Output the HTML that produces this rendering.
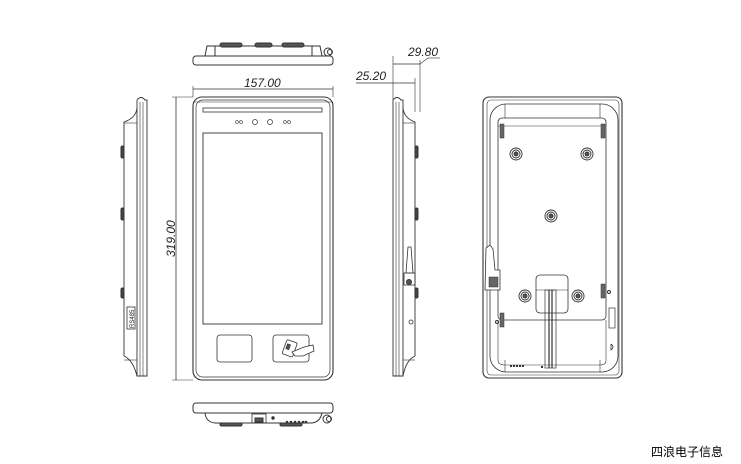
<!DOCTYPE html>
<html><head><meta charset="utf-8"><style>
html,body{margin:0;padding:0;background:#fff;width:741px;height:464px;overflow:hidden}
svg{display:block}
text{font-family:"Liberation Sans",sans-serif;font-style:italic;font-size:12px;fill:#222}
</style></head><body>
<svg width="741" height="464" viewBox="0 0 741 464" xmlns="http://www.w3.org/2000/svg" fill="none" stroke="#333" stroke-width="1">
<!-- Top view -->
<path d="M205 56 L207 46 L320 46 L322 56" />
<line x1="215" y1="46" x2="215" y2="56"/><line x1="312" y1="46" x2="312" y2="56"/>
<rect x="220" y="43" width="22" height="4" rx="2" fill="#555"/>
<rect x="255" y="43" width="17" height="4" rx="2" fill="#555"/>
<rect x="282" y="43" width="22" height="4" rx="2" fill="#555"/>
<rect x="193" y="56" width="140" height="9" rx="3"/>
<circle cx="328" cy="52" r="4"/><circle cx="330" cy="52" r="2.5"/>
<!-- 157 dim -->
<line x1="193" y1="89" x2="333" y2="89" stroke-width="0.8"/>
<line x1="193" y1="86" x2="193" y2="97" stroke-width="0.6"/>
<line x1="333" y1="86" x2="333" y2="97" stroke-width="0.6"/>
<text x="244" y="87" stroke="none">157.00</text>
<!-- Front view -->
<rect x="193" y="97" width="140" height="283" rx="9" stroke-width="1.1"/>
<rect x="196" y="100" width="134" height="277" rx="7" stroke-width="0.7"/>
<line x1="193" y1="102" x2="333" y2="102" stroke-width="0.6"/>
<rect x="203" y="108" width="119" height="4" stroke-width="0.8"/>
<circle cx="237" cy="122" r="1.4" stroke-width="0.6"/><circle cx="241" cy="122" r="1.4" stroke-width="0.6"/>
<circle cx="255" cy="122" r="2.5" stroke-width="0.7"/><circle cx="270" cy="122" r="2.5" stroke-width="0.7"/>
<circle cx="285" cy="122" r="1.4" stroke-width="0.6"/><circle cx="289" cy="122" r="1.4" stroke-width="0.6"/>
<rect x="203" y="133" width="119" height="191" stroke-width="0.9"/>
<rect x="217" y="335" width="35" height="27" rx="3" stroke-width="0.8"/>
<rect x="273" y="335" width="36" height="27" rx="3" stroke-width="0.8"/>
<g transform="translate(290,349) rotate(20)" stroke-width="0.8"><rect x="-6" y="-8" width="11" height="15" rx="1.5" fill="#fff"/><rect x="-4" y="-4" width="3" height="5" fill="#555"/></g>
<path d="M292 352 L304 347 L313 345 L314 351 L303 356 L295 356 Z" fill="#fff" stroke-width="0.8"/>
<!-- 319 dim -->
<line x1="176" y1="97" x2="176" y2="380" stroke-width="0.8"/>
<line x1="172" y1="97" x2="193" y2="97" stroke-width="0.6"/>
<line x1="172" y1="380" x2="193" y2="380" stroke-width="0.6"/>
<text x="0" y="0" stroke="none" transform="translate(175,257) rotate(-90)">319.00</text>
<!-- Left side view -->
<path d="M137 100 Q141 95 145 100 L147 100 L147 376 L137 376 Z" stroke-width="0.9"/>
<line x1="140" y1="102" x2="140" y2="376" stroke-width="0.6"/><line x1="143" y1="102" x2="143" y2="376" stroke-width="0.6"/>
<path d="M137 108 Q136 118 124 122 L124 356 Q133 360 137 376" stroke-width="0.9"/>
<line x1="124" y1="123" x2="137" y2="123" stroke-width="0.6"/>
<line x1="124" y1="360" x2="137" y2="360" stroke-width="0.6"/>
<rect x="121" y="146" width="3" height="12" rx="1.5" fill="#444"/>
<rect x="121" y="208" width="3" height="12" rx="1.5" fill="#444"/>
<rect x="121" y="288" width="3" height="10" rx="1.5" fill="#444"/>
<rect x="127" y="307" width="8" height="22" stroke-width="0.8"/>
<text x="0" y="0" stroke="none" transform="translate(134,328) rotate(-90)" style="font-style:normal;font-size:6px">RS485</text>
<!-- Right side view -->
<line x1="393" y1="56" x2="393" y2="100" stroke-width="0.6"/>
<line x1="420" y1="60" x2="420" y2="112" stroke-width="0.6"/>
<line x1="415" y1="78" x2="415" y2="112" stroke-width="0.6"/>
<line x1="393" y1="64" x2="420" y2="64" stroke-width="0.8"/>
<line x1="420" y1="64" x2="428" y2="58" stroke-width="0.6"/><line x1="428" y1="58" x2="440" y2="58" stroke-width="0.6"/>
<text x="408" y="56" stroke="none">29.80</text>
<line x1="356" y1="83" x2="415" y2="83" stroke-width="0.8"/>
<text x="356" y="80" stroke="none">25.20</text>
<path d="M393 100 Q397 95 401 100 L403 100 L403 376 L393 376 Z" stroke-width="0.9"/>
<line x1="396" y1="102" x2="396" y2="376" stroke-width="0.6"/><line x1="399" y1="102" x2="399" y2="376" stroke-width="0.6"/>
<path d="M403 108 Q404 118 415 122 L415 356 Q406 360 403 376" stroke-width="0.9"/>
<line x1="403" y1="123" x2="415" y2="123" stroke-width="0.6"/>
<line x1="403" y1="360" x2="415" y2="360" stroke-width="0.6"/>
<rect x="415" y="146" width="3" height="12" rx="1.5" fill="#444"/>
<rect x="415" y="208" width="3" height="12" rx="1.5" fill="#444"/>
<rect x="415" y="288" width="3" height="10" rx="1.5" fill="#444"/>
<path d="M406 273 L408 247 L411 247 L413 273 Z" stroke-width="0.8"/>
<rect x="404" y="273" width="11" height="12" stroke-width="0.8"/><circle cx="409" cy="282" r="2.5" fill="#555"/>
<circle cx="411" cy="322" r="2" stroke-width="0.8"/>
<!-- Bottom view -->
<rect x="193" y="403" width="140" height="10" rx="3"/>
<path d="M205 413 Q206 422 215 423 L312 423 Q320 422 322 413"/>
<rect x="252" y="414" width="14" height="9" stroke-width="0.8"/><rect x="255" y="418" width="8" height="4" fill="#555"/>
<circle cx="273" cy="418" r="1.2" fill="#333"/>
<g fill="#333" stroke="none"><circle cx="287" cy="422" r="1.3"/><circle cx="291" cy="422" r="1.3"/><circle cx="295" cy="422" r="1.3"/><circle cx="299" cy="422" r="1.3"/><circle cx="303" cy="422" r="1.3"/><circle cx="306" cy="422" r="1.3"/></g>
<circle cx="327" cy="419" r="4"/><circle cx="329" cy="419" r="2.5"/>
<rect x="220" y="423" width="22" height="3" rx="1.5" fill="#555"/>
<rect x="280" y="423" width="22" height="3" rx="1.5" fill="#555"/>
<!-- Back view -->
<rect x="483" y="97" width="139" height="281" rx="6" stroke-width="1.1"/>
<rect x="487" y="100" width="132" height="275" rx="4" stroke-width="0.6"/>
<rect x="490" y="104" width="128" height="268" rx="16" stroke-width="0.8"/>
<rect x="498" y="118" width="108" height="202" rx="4" stroke-width="0.8"/>
<line x1="498" y1="126" x2="606" y2="126" stroke-width="0.6"/>
<line x1="505" y1="104" x2="505" y2="118" stroke-width="0.6"/><line x1="600" y1="104" x2="600" y2="118" stroke-width="0.6"/>
<line x1="505" y1="360" x2="505" y2="372" stroke-width="0.6"/><line x1="600" y1="360" x2="600" y2="372" stroke-width="0.6"/>
<line x1="498" y1="320" x2="498" y2="360" stroke-width="0.6"/><line x1="606" y1="320" x2="606" y2="360" stroke-width="0.6"/>
<path d="M498 360 Q498 365 505 365 L600 365 Q606 365 606 360" stroke-width="0.6"/>
<rect x="500" y="124" width="4" height="14" fill="#666" stroke-width="0.5"/>
<rect x="601" y="124" width="4" height="14" fill="#666" stroke-width="0.5"/>
<rect x="500" y="313" width="4" height="14" fill="#666" stroke-width="0.5"/>
<rect x="601" y="284" width="4" height="14" fill="#666" stroke-width="0.5"/>
<g stroke-width="0.9">
<circle cx="516" cy="154" r="6"/><circle cx="516" cy="154" r="4"/><circle cx="516" cy="154" r="2" fill="#555"/>
<circle cx="587" cy="154" r="6"/><circle cx="587" cy="154" r="4"/><circle cx="587" cy="154" r="2" fill="#555"/>
<circle cx="551" cy="216" r="6"/><circle cx="551" cy="216" r="4"/><circle cx="551" cy="216" r="2" fill="#555"/>
<circle cx="525" cy="296" r="6"/><circle cx="525" cy="296" r="4"/><circle cx="525" cy="296" r="2" fill="#555"/>
<circle cx="578" cy="296" r="6"/><circle cx="578" cy="296" r="4"/><circle cx="578" cy="296" r="2" fill="#555"/>
</g>
<rect x="536" y="275" width="32" height="38" rx="4" stroke-width="0.8"/>
<line x1="536" y1="290" x2="568" y2="290" stroke-width="0.6"/>
<rect x="545" y="290" width="11" height="78" stroke-width="0.7"/>
<line x1="549" y1="290" x2="549" y2="368" stroke-width="1.2"/><line x1="552" y1="290" x2="552" y2="368" stroke-width="1.2"/>
<path d="M485 290 L486 248 L490 245 L493 249 L495 270 L500 270 L500 290 Z" stroke-width="0.8" fill="#fff"/>
<rect x="489" y="277" width="9" height="10" fill="#666" stroke-width="0.5"/>
<rect x="609" y="308" width="6" height="20" stroke-width="0.7"/>
<circle cx="497" cy="322" r="1.5"/><circle cx="609" cy="292" r="1.5"/>
<path d="M611 344 L611 350 Q615 347 611 344" stroke-width="0.8"/>
<g fill="#333" stroke="none"><rect x="510" y="365" width="2" height="2"/><rect x="513" y="365" width="2" height="2"/><rect x="516" y="365" width="2" height="2"/><rect x="519" y="365" width="2" height="2"/><rect x="522" y="365" width="2" height="2"/><rect x="541" y="366" width="2" height="2"/></g>
<text x="651" y="456" stroke="none" style="font-style:normal;font-family:'Liberation Sans','Noto Sans CJK SC',sans-serif;font-size:12px;fill:#000">四浪电子信息</text>
</svg>
</body></html>
